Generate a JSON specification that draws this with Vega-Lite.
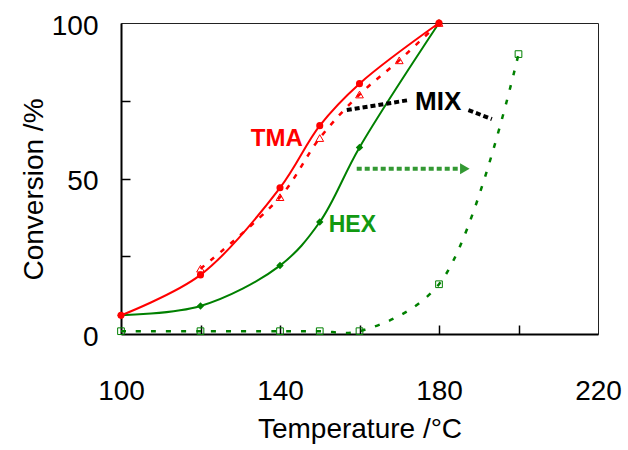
{
  "$schema": "https://vega.github.io/schema/vega-lite/v6.json",
  "autosize": {"type": "none"},
  "padding": {"left": 121, "top": 23, "right": 30, "bottom": 116},
  "width": 477,
  "height": 311,
  "background": "white",
  "resolve": {"axis": {"x": "independent", "y": "independent"}},
  "datasets": {
    "curves": [
      {"S": "TMA", "T": 100, "C": 6},
      {"S": "TMA", "T": 120, "C": 19},
      {"S": "TMA", "T": 140, "C": 47},
      {"S": "TMA", "T": 150, "C": 67},
      {"S": "TMA", "T": 160, "C": 80.5},
      {"S": "TMA", "T": 180, "C": 100},
      {"S": "TMA-MIX", "T": 120, "C": 21},
      {"S": "TMA-MIX", "T": 140, "C": 44},
      {"S": "TMA-MIX", "T": 150, "C": 63},
      {"S": "TMA-MIX", "T": 160, "C": 77},
      {"S": "TMA-MIX", "T": 170, "C": 88},
      {"S": "TMA-MIX", "T": 180, "C": 100},
      {"S": "HEX", "T": 100, "C": 6},
      {"S": "HEX", "T": 120, "C": 9},
      {"S": "HEX", "T": 140, "C": 22},
      {"S": "HEX", "T": 150, "C": 36},
      {"S": "HEX", "T": 160, "C": 60},
      {"S": "HEX", "T": 180, "C": 100},
      {"S": "HEX-MIX", "T": 100, "C": 0.9},
      {"S": "HEX-MIX", "T": 120, "C": 0.9},
      {"S": "HEX-MIX", "T": 140, "C": 0.9},
      {"S": "HEX-MIX", "T": 150, "C": 0.9},
      {"S": "HEX-MIX", "T": 160, "C": 0.9},
      {"S": "HEX-MIX", "T": 180, "C": 16},
      {"S": "HEX-MIX", "T": 200, "C": 90}
    ],
    "pointers": [
      {"g": "a", "T": 156.8, "C": 72.0},
      {"g": "a", "T": 172.3, "C": 75.2},
      {"g": "b", "T": 187.4, "C": 72.0},
      {"g": "b", "T": 193.3, "C": 69.1}
    ],
    "arrow": [
      {"T": 159.3, "C": 53.1},
      {"T": 185.3, "C": 53.1}
    ],
    "arrowhead": [
      {"T": 186.5, "C": 53.1}
    ],
    "labels": [
      {"t": "TMA", "T": 139.2, "C": 62.6},
      {"t": "HEX", "T": 158.2, "C": 35.0},
      {"t": "MIX", "T": 179.8, "C": 74.7}
    ]
  },
  "config": {
    "font": "Liberation Sans",
    "view": {"stroke": "#222222", "strokeWidth": 1},
    "axis": {
      "grid": false,
      "domainColor": "black",
      "domainWidth": 2,
      "tickColor": "black",
      "tickWidth": 1.5,
      "labelFont": "Liberation Sans",
      "labelFontSize": 28,
      "labelColor": "black",
      "titleFont": "Liberation Sans",
      "titleFontSize": 28,
      "titleFontWeight": "normal",
      "titleColor": "black",
      "labelOverlap": false,
      "labelFlush": false
    }
  },
  "layer": [
    {
      "data": {"name": "curves"},
      "transform": [{"filter": "datum.S == 'HEX-MIX'"}],
      "mark": {"type": "line", "color": "#008000", "strokeWidth": 2.5, "strokeDash": [5, 10], "interpolate": "catmull-rom"},
      "encoding": {
        "x": {"field": "T", "type": "quantitative", "scale": {"domain": [100, 220], "nice": false, "zero": false},
          "axis": {"orient": "bottom", "values": [100, 140, 180, 220], "ticks": false, "labelPadding": 43, "title": "Temperature /°C", "titleY": 103, "titleBaseline": "alphabetic"}},
        "y": {"field": "C", "type": "quantitative", "scale": {"domain": [0, 100], "nice": false},
          "axis": {"orient": "left", "values": [0, 50, 100], "ticks": false, "labelPadding": 23, "labelOffset": 3, "title": "Conversion /%", "titleX": -79, "titleY": 166, "titleBaseline": "alphabetic", "titleAlign": "center"}}
      }
    },
    {
      "data": {"name": "curves"},
      "transform": [{"filter": "datum.S == 'HEX'"}],
      "mark": {"type": "line", "color": "#008000", "strokeWidth": 2, "interpolate": "catmull-rom"},
      "encoding": {
        "x": {"field": "T", "type": "quantitative",
          "axis": {"orient": "top", "offset": -311, "values": [120, 140, 160, 180, 200], "tickSize": 9, "labels": false, "domain": false, "title": null}},
        "y": {"field": "C", "type": "quantitative",
          "axis": {"orient": "right", "offset": -477, "values": [25, 50, 75], "tickSize": 9, "labels": false, "domain": false, "title": null}}
      }
    },
    {
      "data": {"name": "curves"},
      "transform": [{"filter": "datum.S == 'TMA-MIX'"}],
      "mark": {"type": "line", "color": "#ff0000", "strokeWidth": 2.5, "strokeDash": [5, 8], "interpolate": "catmull-rom"},
      "encoding": {"x": {"field": "T", "type": "quantitative", "axis": null}, "y": {"field": "C", "type": "quantitative", "axis": null}}
    },
    {
      "data": {"name": "curves"},
      "transform": [{"filter": "datum.S == 'TMA'"}],
      "mark": {"type": "line", "color": "#ff0000", "strokeWidth": 2, "interpolate": "catmull-rom"},
      "encoding": {"x": {"field": "T", "type": "quantitative", "axis": null}, "y": {"field": "C", "type": "quantitative", "axis": null}}
    },
    {
      "data": {"name": "curves"},
      "transform": [{"filter": "datum.S == 'HEX-MIX'"}],
      "mark": {"type": "point", "shape": "square", "size": 45, "filled": false, "stroke": "#008000", "strokeWidth": 1, "opacity": 1},
      "encoding": {"x": {"field": "T", "type": "quantitative", "axis": null}, "y": {"field": "C", "type": "quantitative", "axis": null}}
    },
    {
      "data": {"name": "curves"},
      "transform": [{"filter": "datum.S == 'HEX'"}],
      "mark": {"type": "point", "shape": "diamond", "size": 55, "filled": true, "color": "#008000", "opacity": 1},
      "encoding": {"x": {"field": "T", "type": "quantitative", "axis": null}, "y": {"field": "C", "type": "quantitative", "axis": null}}
    },
    {
      "data": {"name": "curves"},
      "transform": [{"filter": "datum.S == 'TMA-MIX'"}],
      "mark": {"type": "point", "shape": "triangle-up", "size": 60, "filled": false, "stroke": "#ff0000", "strokeWidth": 1, "opacity": 1},
      "encoding": {"x": {"field": "T", "type": "quantitative", "axis": null}, "y": {"field": "C", "type": "quantitative", "axis": null}}
    },
    {
      "data": {"name": "curves"},
      "transform": [{"filter": "datum.S == 'TMA'"}],
      "mark": {"type": "point", "shape": "circle", "size": 50, "filled": true, "color": "#ff0000", "opacity": 1},
      "encoding": {"x": {"field": "T", "type": "quantitative", "axis": null}, "y": {"field": "C", "type": "quantitative", "axis": null}}
    },
    {
      "data": {"name": "pointers"},
      "mark": {"type": "line", "color": "black", "strokeWidth": 4, "strokeDash": [5, 3]},
      "encoding": {"x": {"field": "T", "type": "quantitative", "axis": null}, "y": {"field": "C", "type": "quantitative", "axis": null}, "detail": {"field": "g"}}
    },
    {
      "data": {"name": "arrow"},
      "mark": {"type": "line", "color": "#339933", "strokeWidth": 4, "strokeDash": [5, 3]},
      "encoding": {"x": {"field": "T", "type": "quantitative", "axis": null}, "y": {"field": "C", "type": "quantitative", "axis": null}}
    },
    {
      "data": {"name": "arrowhead"},
      "mark": {"type": "point", "shape": "triangle-right", "size": 121, "filled": true, "color": "#339933", "opacity": 1},
      "encoding": {"x": {"field": "T", "type": "quantitative", "axis": null}, "y": {"field": "C", "type": "quantitative", "axis": null}}
    },
    {
      "data": {"name": "labels"},
      "transform": [{"filter": "datum.t == 'TMA'"}],
      "mark": {"type": "text", "font": "Liberation Sans", "fontSize": 24, "fontWeight": "bold", "color": "#ff0000", "align": "center", "baseline": "middle"},
      "encoding": {"x": {"field": "T", "type": "quantitative", "axis": null}, "y": {"field": "C", "type": "quantitative", "axis": null}, "text": {"field": "t"}}
    },
    {
      "data": {"name": "labels"},
      "transform": [{"filter": "datum.t == 'HEX'"}],
      "mark": {"type": "text", "font": "Liberation Sans", "fontSize": 23, "fontWeight": "bold", "color": "#119911", "align": "center", "baseline": "middle"},
      "encoding": {"x": {"field": "T", "type": "quantitative", "axis": null}, "y": {"field": "C", "type": "quantitative", "axis": null}, "text": {"field": "t"}}
    },
    {
      "data": {"name": "labels"},
      "transform": [{"filter": "datum.t == 'MIX'"}],
      "mark": {"type": "text", "font": "Liberation Sans", "fontSize": 26, "fontWeight": "bold", "color": "black", "align": "center", "baseline": "middle"},
      "encoding": {"x": {"field": "T", "type": "quantitative", "axis": null}, "y": {"field": "C", "type": "quantitative", "axis": null}, "text": {"field": "t"}}
    }
  ]
}
